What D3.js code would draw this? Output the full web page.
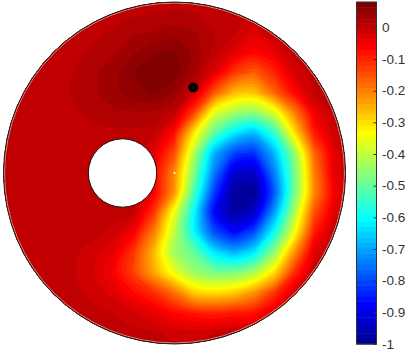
<!DOCTYPE html>
<html>
<head>
<meta charset="utf-8">
<script src="https://cdn.jsdelivr.net/npm/d3@7"></script>
<style>
html,body{margin:0;padding:0;background:#fff;overflow:hidden}
</style>
</head>
<body>
<div id="chartDiv"></div>
<script>
//---values, rows top to bottom, 19 x 19 nodes---
var Grid=[
[.004,.004,.004,.004,.004,.004,.004,.004,.004,.004,.004,.004,.004,.004,.004,.004,.004,.004,.004],
[.004,.004,.004,.004,.004,.004,.004,.008,.011,.014,.012,.006,.004,0,.004,.004,.004,.004,.004],
[.004,.004,.004,.004,.004,.006,.016,.026,.032,.037,.031,.0125,-.002,-.03,.004,.004,.004,.004,.004],
[.004,.004,.004,.004,.005,.02,.028,.045,.06,.066,.042,.005,-.03,-.065,-.04,.004,.004,.004,.004],
[.004,.004,.004,.004,.0125,.026,.04,.062,.08,.075,.03,-.03,-.12,-.16,-.1,-.02,.004,.004,.004],
[.004,.004,.004,.004,.015,.026,.04,.058,.066,.045,-.01,-.15,-.26,-.27,-.17,-.07,0,.004,.004],
[.004,.004,.004,.004,.009,.017,.026,.027,.025,.005,-.13,-.36,-.43,-.45,-.37,-.2,-.045,.004,.004],
[.004,.004,.004,.004,.004,.006,.009,.008,.002,-.07,-.31,-.5,-.62,-.67,-.55,-.31,-.09,-.01,.004],
[.004,.004,.004,.004,.004,.004,.004,.004,-.03,-.14,-.41,-.68,-.8,-.82,-.68,-.45,-.17,-.03,.004],
[.004,.004,.004,.004,.004,.004,.004,.004,-.06,-.2,-.47,-.74,-.92,-.93,-.74,-.49,-.2,-.035,.004],
[.004,.004,.004,.004,.004,.004,.004,.004,-.06,-.22,-.53,-.81,-.98,-.99,-.785,-.487,-.21,-.05,.004],
[.004,.004,.004,.004,.004,.004,.004,0,-.12,-.35,-.6,-.875,-.97,-.93,-.71,-.425,-.15,-.03,.004],
[.004,.004,.004,.004,.004,.002,-.012,-.06,-.2,-.4,-.6,-.79,-.865,-.79,-.59,-.35,-.09,0,.004],
[.004,.004,.004,.004,0,-.016,-.04,-.12,-.26,-.43,-.5,-.625,-.68,-.62,-.45,-.22,-.03,.004,.004],
[.004,.004,.004,.004,-.003,-.021,-.06,-.13,-.24,-.35,-.44,-.47,-.47,-.42,-.3,-.11,0,.004,.004],
[.004,.004,.004,.004,.003,-.012,-.03,-.07,-.11,-.18,-.28,-.3,-.28,-.22,-.12,-.02,.004,.004,.004],
[.004,.004,.004,.004,.004,.002,-.005,-.02,-.04,-.07,-.09,-.1,-.09,-.08,-.03,.004,.004,.004,.004],
[.004,.004,.004,.004,.004,.004,.004,.002,-.002,-.01,-.012,-.005,0,.004,.004,.004,.004,.004,.004],
[.004,.004,.004,.004,.004,.004,.004,.004,.004,.004,.004,.004,.004,.004,.004,.004,.004,.004,.004]
]
var GridSpan=[-1.055,1.05]  //---disk units covered by the grid nodes---
var ValueRange=[-1,.08]
var BarTicks=[0,-.1,-.2,-.3,-.4,-.5,-.6,-.7,-.8,-.9,-1]
var JetIndex=[1,8,24,40,56,64]
var JetColors=["#000090","#0000ff","#00ffff","#ffff00","#ff0000","#800000"]
var HoleX=[-.304],HoleY=[0],HoleR=[.2]
var DotX=[.11],DotY=[.5]
var CenterX=[0],CenterY=[0]

var Width=407
var Height=352
var Levels=64

var ChartSVG=d3.select("#chartDiv").append("svg")
.attr("width",Width)
.attr("height",Height)
.style("display","block")
.attr("font-family","'Liberation Sans',Arial,sans-serif")

var xScale=d3.scaleLinear().domain([-1,1]).range([3.5,345.5])
var yScale=d3.scaleLinear().domain([-1,1]).range([344,2])
var rScale=d3.scaleLinear().domain([0,1]).range([0,171])
var jet=d3.scaleLinear().domain(JetIndex).range(JetColors)
var bandStep=(ValueRange[1]-ValueRange[0])/Levels

//---filled bands, painted from the lowest up---
var rows=Grid.length
var cols=Grid[0].length
var flat=d3.merge(Grid)
var thresholds=d3.range(Levels).map(function(k){return ValueRange[0]+k*bandStep})
thresholds[0]=-1.5
var contours=d3.contours().size([cols,rows]).thresholds(thresholds)(flat)

var colToX=d3.scaleLinear().domain([.5,cols-.5]).range([xScale(GridSpan[0]),xScale(GridSpan[1])])
var rowToY=d3.scaleLinear().domain([.5,rows-.5]).range([yScale(-GridSpan[0]),yScale(-GridSpan[1])])

//---round the band outlines, the grid is coarse---
var ringLine=d3.line()
.x(function(p){return colToX(p[0])})
.y(function(p){return rowToY(p[1])})
.curve(d3.curveCatmullRomClosed.alpha(.5))

function bandPath(c)
{
	var d=""
	c.coordinates.forEach(function(poly){
		poly.forEach(function(ring){
			d+=ringLine(ring.slice(0,-1))
		})
	})
	return d
}

var defs=ChartSVG.append("defs")
defs.append("clipPath")
.attr("id","diskClip")
.append("circle")
.attr("cx",xScale(0))
.attr("cy",yScale(0))
.attr("r",rScale(1))

var DiskG=ChartSVG.append("g")
.attr("id","diskG")
.attr("clip-path","url(#diskClip)")

DiskG.selectAll("path")
.data(contours)
.enter().append("path")
.attr("d",bandPath)
.attr("fill-rule","evenodd")
.attr("fill",function(d,i){return jet(i+1)})

//---outer rim, thin light line inside the dark one---
ChartSVG.append("circle")
.attr("cx",xScale(0))
.attr("cy",yScale(0))
.attr("r",rScale(1)-1)
.attr("fill","none")
.attr("stroke","#ccc")
.attr("stroke-width",".7")

ChartSVG.append("circle")
.attr("cx",xScale(0))
.attr("cy",yScale(0))
.attr("r",rScale(1))
.attr("fill","none")
.attr("stroke","#222")
.attr("stroke-width","1")

//---hole---
ChartSVG.selectAll(".hole")
.data(HoleX)
.enter().append("circle")
.attr("class","hole")
.attr("cx",function(d){return xScale(d)})
.attr("cy",function(d,i){return yScale(HoleY[i])})
.attr("r",function(d,i){return rScale(HoleR[i])})
.attr("fill","white")
.attr("stroke","#111")
.attr("stroke-width","1")

//---black marker and the tiny white one at the origin---
ChartSVG.selectAll(".dot")
.data(DotX)
.enter().append("circle")
.attr("class","dot")
.attr("cx",function(d){return xScale(d)})
.attr("cy",function(d,i){return yScale(DotY[i])})
.attr("r",5)
.attr("fill","black")

ChartSVG.selectAll(".center")
.data(CenterX)
.enter().append("circle")
.attr("class","center")
.attr("cx",function(d){return xScale(d)})
.attr("cy",function(d,i){return yScale(CenterY[i])})
.attr("r",1)
.attr("fill","white")

//---colorbar---
var barLeft=356.5
var barWidth=20
var barScale=d3.scaleLinear().domain(ValueRange).range([344,2])
var BarG=ChartSVG.append("g").attr("id","barG")

BarG.selectAll("rect")
.data(d3.range(Levels))
.enter().append("rect")
.attr("x",barLeft)
.attr("width",barWidth)
.attr("y",function(k){return barScale(ValueRange[0]+(k+1)*bandStep)})
.attr("height",function(k){return barScale(ValueRange[0]+k*bandStep)-barScale(ValueRange[0]+(k+1)*bandStep)+.5})
.attr("fill",function(k){return jet(k+1)})

var axis=d3.axisRight(barScale)
.tickValues(BarTicks)
.tickSize(-3)
.tickPadding(5.5)
.tickFormat(function(d){return d3.format("")(d).replace("−","-")})

var axisG=BarG.append("g")
.attr("transform","translate("+(barLeft+barWidth)+",0)")
.call(axis)
axisG.selectAll("text")
.attr("font-size","13.5px")
.attr("font-family","'Liberation Sans',Arial,sans-serif")
.attr("fill","#333")
axisG.selectAll("line").attr("stroke","#333")
axisG.select(".domain").remove()

BarG.append("rect")
.attr("x",barLeft)
.attr("y",2)
.attr("width",barWidth)
.attr("height",342)
.attr("fill","none")
.attr("stroke","#333")
.attr("stroke-width","1")
</script>
</body>
</html>
